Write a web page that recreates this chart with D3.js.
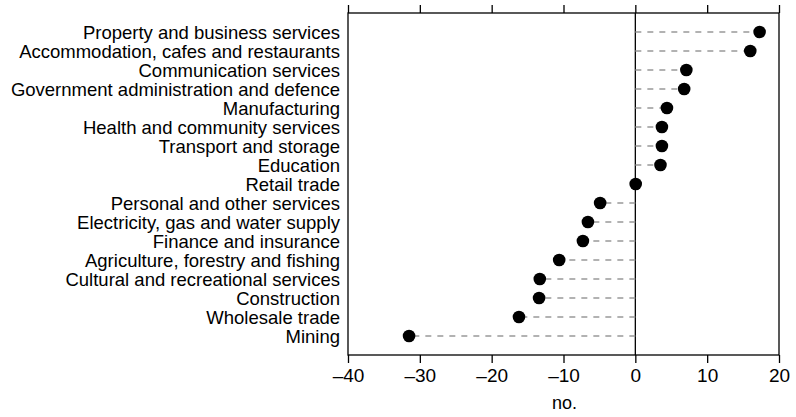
<!DOCTYPE html>
<html><head><meta charset="utf-8">
<script src="https://cdn.jsdelivr.net/npm/d3@7"></script>
<style>body{margin:0;background:#fff}svg{display:block}text{font-family:"Liberation Sans",Arial,sans-serif;fill:#000}</style>
</head><body>
<script>
const categories = ["Property and business services","Accommodation, cafes and restaurants","Communication services","Government administration and defence","Manufacturing","Health and community services","Transport and storage","Education","Retail trade","Personal and other services","Electricity, gas and water supply","Finance and insurance","Agriculture, forestry and fishing","Cultural and recreational services","Construction","Wholesale trade","Mining"];
const values = [17.3,16.0,7.1,6.8,4.4,3.7,3.7,3.5,0.05,-4.9,-6.6,-7.3,-10.6,-13.3,-13.4,-16.2,-31.5];
const xTicks = [-40,-30,-20,-10,0,10,20];
const xTitle = "no.";

(function(){
const W=796,H=417, L=348, R=779, T=13, B=355;
const svg=d3.select("body").append("svg").attr("width",W).attr("height",H);
const x=d3.scaleLinear().domain([-40,20]).range([L,R]);
const y=d3.scalePoint().domain(categories).range([T,B]).padding(1);
const fmt=d=>d<0?"\u2013"+Math.abs(d):String(d);

svg.append("rect").attr("x",L).attr("y",T).attr("width",R-L).attr("height",B-T).attr("fill","none").attr("stroke","#000").attr("stroke-width",1.3);
svg.append("line").attr("x1",x(0)).attr("x2",x(0)).attr("y1",T).attr("y2",B).attr("stroke","#000").attr("stroke-width",1.3);

const gB=svg.append("g").attr("transform",`translate(0,${B})`).call(d3.axisBottom(x).tickValues(xTicks).tickFormat(fmt).tickSize(8).tickPadding(3));
const gT=svg.append("g").attr("transform",`translate(0,${T})`).call(d3.axisTop(x).tickValues(xTicks).tickFormat("").tickSize(8));
[gB,gT].forEach(g=>{g.select(".domain").remove();g.selectAll("line").attr("stroke","#000").attr("stroke-width",1.3);});
gB.selectAll("text").attr("font-size",19).attr("font-family","Liberation Sans, Arial, sans-serif").attr("fill","#000").attr("dy",null).attr("y",27);

svg.append("text").attr("x",x(-10)+1).attr("y",409).attr("text-anchor","middle").attr("font-size",18).text(xTitle);

svg.append("g").selectAll("text").data(categories).join("text")
  .attr("x",340).attr("y",d=>y(d)).attr("dy","0.36em").attr("text-anchor","end").attr("font-size",18.5).text(d=>d);

const rows=categories.map((c,i)=>({c,v:values[i]}));
svg.append("g").selectAll("line").data(rows).join("line")
  .attr("x1",x(0)).attr("x2",d=>x(d.v)).attr("y1",d=>y(d.c)).attr("y2",d=>y(d.c))
  .attr("stroke","#999").attr("stroke-width",1.5).attr("stroke-dasharray","6,6");
svg.append("g").selectAll("circle").data(rows).join("circle")
  .attr("cx",d=>x(d.v)).attr("cy",d=>y(d.c)).attr("r",6.3).attr("fill","#000");
})();
</script>
</body></html>
